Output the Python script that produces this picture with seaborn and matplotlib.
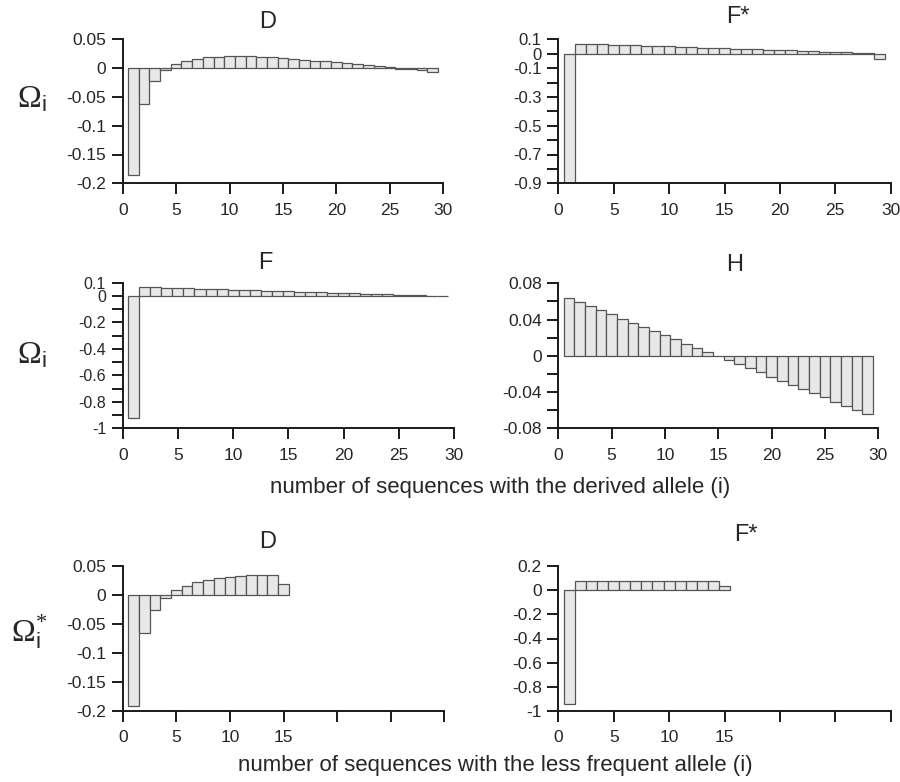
import numpy as np
import pandas as pd
import seaborn as sns
import matplotlib
matplotlib.use("Agg")
import matplotlib.pyplot as plt

# weights, i = 1..29 (n = 30)
i_all = list(range(1, 30))
i_half = list(range(1, 16))

D_vals = [-0.186, -0.063, -0.0225, -0.004, 0.0075, 0.0127, 0.016, 0.019, 0.020, 0.0205,
          0.0205, 0.0205, 0.020, 0.020, 0.018, 0.016, 0.0145, 0.013, 0.0116, 0.0098,
          0.0087, 0.007, 0.005, 0.0035, 0.0017, -0.001, -0.002, -0.004, -0.006]
Fstar_vals = [-0.93, 0.070, 0.068, 0.066, 0.063, 0.061, 0.058, 0.056, 0.053, 0.051,
              0.048, 0.046, 0.043, 0.041, 0.038, 0.036, 0.033, 0.031, 0.028, 0.026,
              0.023, 0.020, 0.018, 0.015, 0.012, 0.009, 0.006, 0.003, -0.035]
F_vals = [-0.925, 0.068, 0.065, 0.062, 0.059, 0.057, 0.054, 0.052, 0.049, 0.047,
          0.044, 0.042, 0.039, 0.037, 0.035, 0.032, 0.030, 0.027, 0.025, 0.022,
          0.020, 0.017, 0.015, 0.012, 0.010, 0.007, 0.005, 0.003, 0.001]
H_vals = [0.064, 0.0595, 0.055, 0.0505, 0.046, 0.041, 0.0365, 0.032, 0.0275, 0.023,
          0.018, 0.0135, 0.009, 0.0045, 0.0, -0.0045, -0.009, -0.0135, -0.018, -0.023,
          -0.0275, -0.032, -0.0365, -0.041, -0.046, -0.0505, -0.055, -0.0595, -0.064]
Dfold_vals = [-0.191, -0.066, -0.025, -0.0046, 0.0086, 0.016, 0.023, 0.0264, 0.029, 0.031,
              0.033, 0.034, 0.035, 0.035, 0.019]
Ffold_vals = [-0.94, 0.072, 0.072, 0.072, 0.072, 0.072, 0.072, 0.072, 0.072, 0.072,
              0.072, 0.072, 0.072, 0.072, 0.033]

sns.set_style("ticks")
plt.rcParams['font.family'] = ['Liberation Sans', 'DejaVu Sans']
plt.rcParams['mathtext.fontset'] = 'custom'
plt.rcParams['mathtext.rm'] = 'Liberation Serif'
plt.rcParams['mathtext.it'] = 'Liberation Serif:italic'
plt.rcParams['mathtext.sf'] = 'Liberation Sans'

W, H = 900, 782
fig = plt.figure(figsize=(9, 7.82), dpi=100)


def px_axes(x0, x1, ytop, ybot):
    return fig.add_axes([x0 / W, 1 - ybot / H, (x1 - x0) / W, (ybot - ytop) / H])


def draw(ax, xs, ys, ylim, yticks, ylabels, xlabels_upto=30, ysize=12.5):
    df = pd.DataFrame({"i": xs, "w": ys})
    sns.barplot(data=df, x="i", y="w", native_scale=True, width=1, ax=ax,
                color="#e8e8e8", saturation=1, edgecolor="#555555",
                linewidth=0.9, errorbar=None)
    ax.set_xlim(0, 30)
    ax.set_ylim(*ylim)
    ax.set_xlabel("")
    ax.set_ylabel("")
    ax.set_xticks(range(0, 31, 5))
    ax.set_xticklabels([str(t) if t <= xlabels_upto else "" for t in range(0, 31, 5)])
    ax.set_yticks(yticks)
    ax.set_yticklabels(ylabels)
    sns.despine(ax=ax)
    for s in ("left", "bottom"):
        ax.spines[s].set_linewidth(1.4)
        ax.spines[s].set_color("#1a1a1a")
    ax.tick_params(axis="y", direction="out", length=8, width=1.4, pad=4,
                   labelsize=ysize, color="#1a1a1a")
    ax.tick_params(axis="x", direction="out", length=8, width=1.4, pad=6,
                   labelsize=12.5, color="#1a1a1a")
    ax.set_facecolor("none")


def lab(vals):
    return ["%g" % v for v in vals]


# top-left D
ax1 = px_axes(122.7, 443.3, 39.3, 183.3)
yt = [0.05, 0, -0.05, -0.1, -0.15, -0.2]
draw(ax1, i_all, D_vals, (-0.2, 0.05), yt, lab(yt))

# top-right F*
ax2 = px_axes(558.3, 890.7, 39.3, 183.3)
yt = [round(0.1 - 0.1 * k, 1) for k in range(11)]
yl = ["0.1", "0", "-0.1", "", "-0.3", "", "-0.5", "", "-0.7", "", "-0.9"]
draw(ax2, i_all, Fstar_vals, (-0.9, 0.1), yt, yl, ysize=12)

# middle-left F
ax3 = px_axes(122.7, 454, 282.7, 428.3)
yt = [round(0.1 - 0.1 * k, 1) for k in range(12)]
yl = ["0.1", "0", "", "-0.2", "", "-0.4", "", "-0.6", "", "-0.8", "", "-1"]
draw(ax3, i_all, F_vals, (-1.0, 0.1), yt, yl, ysize=11.5)

# middle-right H
ax4 = px_axes(558.3, 878.3, 283.3, 428.3)
yt = [round(0.08 - 0.02 * k, 2) for k in range(9)]
yl = ["0.08", "", "0.04", "", "0", "", "-0.04", "", "-0.08"]
draw(ax4, i_all, H_vals, (-0.08, 0.08), yt, yl)

# bottom-left D (folded)
ax5 = px_axes(122.7, 444.3, 566, 711)
yt = [0.05, 0, -0.05, -0.1, -0.15, -0.2]
draw(ax5, i_half, Dfold_vals, (-0.2, 0.05), yt, lab(yt), xlabels_upto=15)

# bottom-right F* (folded)
ax6 = px_axes(558.3, 890.7, 566, 711)
yt = [0.2, 0, -0.2, -0.4, -0.6, -0.8, -1.0]
yl = ["0.2", "0", "-0.2", "-0.4", "-0.6", "-0.8", "-1"]
draw(ax6, i_half, Ffold_vals, (-1.0, 0.2), yt, yl, xlabels_upto=15)


def ftext(x, y, s, **kw):
    fig.text(x / W, 1 - y / H, s, ha="center", va="center", **kw)


ftext(268, 22, "D", fontsize=17)
ftext(738, 17, "F*", fontsize=17)
ftext(265, 263, "F", fontsize=17)
ftext(735, 265, "H", fontsize=17)
ftext(268, 542, "D", fontsize=17)
ftext(746, 535, "F*", fontsize=17)

ftext(32, 99, r"$\Omega_{\mathsf{i}}$", fontsize=23)
ftext(32, 355, r"$\Omega_{\mathsf{i}}$", fontsize=23)
ftext(29, 632, r"$\Omega^{*}_{\mathsf{i}}$", fontsize=23)

ftext(500, 488, "number of sequences with the derived allele (i)", fontsize=16)
ftext(495, 765, "number of sequences with the less frequent allele (i)", fontsize=16)

fig.savefig("out.png", dpi=100)
